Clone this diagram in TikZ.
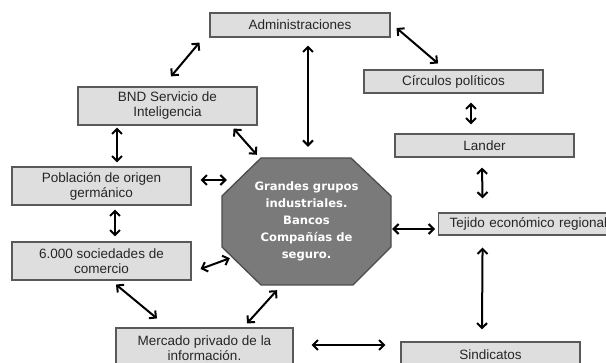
\documentclass[tikz,border=0pt]{standalone}
\usepackage{fontspec}
\setmainfont{Liberation Sans}
\newfontfamily\octfont{DejaVu Sans}
\usetikzlibrary{arrows.meta}
\begin{document}
\begin{tikzpicture}[x=1pt,y=-1pt,
  box/.style={draw=black!65, line width=1.1pt, fill=black!13, text=black!85,
    font=\fontsize{13.5}{15}\selectfont, align=center, inner sep=0pt,
    minimum width=179pt},
  octo/.style={draw=black!70, line width=1.3pt, fill=black!52},
  octtext/.style={text=white, align=center, inner sep=0pt,
    font=\octfont\bfseries\fontsize{11.6}{17}\selectfont},
  arr/.style={{Straight Barb[length=5pt,width=10pt]}-{Straight Barb[length=5pt,width=10pt]},
    line width=2pt, black}]
\useasboundingbox (0,0) rectangle (606,363);
\fill[white] (0,0) rectangle (606,363);
\clip (0,0) rectangle (606,363);

% central octagon
\draw[octo] (261,158) -- (351,158) -- (391,196) -- (391,247) -- (353,285)
  -- (261,285) -- (222,247) -- (222,196) -- cycle;
\node[octtext, minimum width=169pt, minimum height=127pt] (oct) at (306.5,221.5)
  {Grandes grupos\\industriales.\\Bancos\\Compañías de\\seguro.};

% boxes
\node[box, minimum width=180pt, minimum height=24pt] (adm) at (300,25) {Administraciones};
\node[box, minimum height=38pt] (bnd) at (167.5,106) {BND Servicio de\\Inteligencia};
\node[box, minimum height=23pt] (circ) at (453.5,81.5) {Círculos políticos};
\node[box, minimum height=23pt] (lander) at (484.5,145.5) {Lander};
\node[box, minimum height=38pt] (pob) at (101.5,186) {Población de origen\\germánico};
\node[box, minimum height=38pt] (soc) at (101.5,261) {6.000 sociedades de\\comercio};
\node[box, minimum width=177pt, minimum height=40pt] (merc) at (204.5,348) {Mercado privado de la\\información.};
\node[box, minimum height=26pt] (sind) at (490.5,355) {Sindicatos};
\node[box, minimum height=22pt, align=left, text width=168pt, inner xsep=11pt, anchor=west] (tej) at (438,224) {Tejido económico regional};

% connectors
\draw[arr] ([shift={(-10,5)}]adm.south west) -- ([shift={(3.5,-10)}]bnd.north);
\draw[arr] ([shift={(8,8)}]adm.south) -- ([shift={(1.5,-11)}]oct.north);
\draw[arr] ([shift={(6,3)}]adm.east) -- ([shift={(-15.5,-6)}]circ.north);
\draw[arr] ([shift={(17.5,9)}]circ.south) -- ([shift={(-13.5,-9)}]lander.north);
\draw[arr] ([shift={(-2.5,10)}]lander.south) -- ([shift={(-51,-14)}]tej.north);
\draw[arr] ([shift={(1,7.5)}]oct.east) -- ([shift={(-3,5)}]tej.west);
\draw[arr] ([shift={(-51,12)}]tej.south) -- ([shift={(-8.5,-12)}]sind.north);
\draw[arr] ([shift={(18,-3)}]merc.east) -- ([shift={(-15,-10)}]sind.west);
\draw[arr] ([shift={(42.5,-4)}]merc.north) -- ([shift={(-29.5,5)}]oct.south);
\draw[arr] ([shift={(14.5,4)}]soc.south) -- ([shift={(-47.5,-9)}]merc.north);
\draw[arr] ([shift={(9,8)}]soc.east) -- ([shift={(8,-27)}]oct.south west);
\draw[arr] ([shift={(13.5,4)}]pob.south) -- ([shift={(13.5,-5)}]soc.north);
\draw[arr] ([shift={(9,-6)}]pob.east) -- ([shift={(5,-41.5)}]oct.west);
\draw[arr] ([shift={(-50.5,2)}]bnd.south) -- ([shift={(15.5,-4)}]pob.north);
\draw[arr] ([shift={(-24,3)}]bnd.south east) -- ([shift={(35,-3)}]oct.north west);
\end{tikzpicture}
\end{document}
